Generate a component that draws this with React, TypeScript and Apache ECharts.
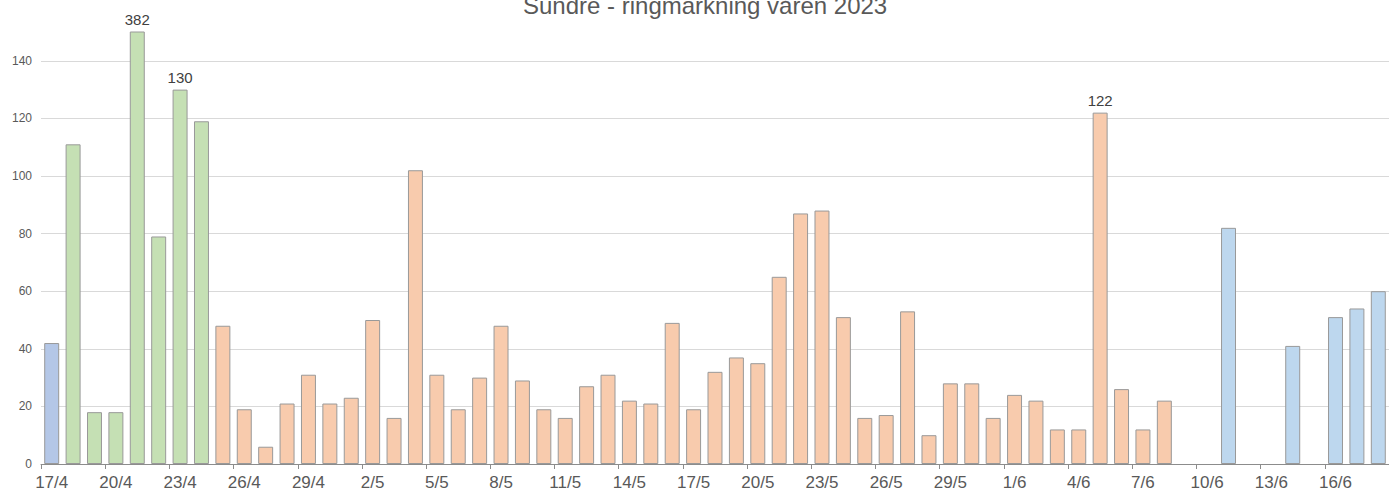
import React, { useEffect, useRef } from "react";
import * as echarts from "echarts";

const title = "Sundre - ringmärkning våren 2023";

const days: string[] = [
  "17/4", "18/4", "19/4", "20/4", "21/4", "22/4", "23/4", "24/4", "25/4", "26/4", "27/4", "28/4", "29/4", "30/4",
  "1/5", "2/5", "3/5", "4/5", "5/5", "6/5", "7/5", "8/5", "9/5", "10/5", "11/5", "12/5", "13/5", "14/5", "15/5",
  "16/5", "17/5", "18/5", "19/5", "20/5", "21/5", "22/5", "23/5", "24/5", "25/5", "26/5", "27/5", "28/5", "29/5",
  "30/5", "31/5", "1/6", "2/6", "3/6", "4/6", "5/6", "6/6", "7/6", "8/6", "9/6", "10/6", "11/6", "12/6", "13/6",
  "14/6", "15/6", "16/6", "17/6", "18/6",
];

const counts: number[] = [
  42, 111, 18, 18, 382, 79, 130, 119, 48, 19, 6, 21, 31, 21,
  23, 50, 16, 102, 31, 19, 30, 48, 29, 19, 16, 27, 31, 22, 21,
  49, 19, 32, 37, 35, 65, 87, 88, 51, 16, 17, 53, 10, 28,
  28, 16, 24, 22, 12, 12, 122, 26, 12, 22, 0, 0, 82, 0, 0,
  41, 0, 51, 54, 60,
];

// period of each day: 0 = early blue, 1 = green, 2 = orange, 3 = late blue
const periods: number[] = [
  0, 1, 1, 1, 1, 1, 1, 1, 2, 2, 2, 2, 2, 2,
  2, 2, 2, 2, 2, 2, 2, 2, 2, 2, 2, 2, 2, 2, 2,
  2, 2, 2, 2, 2, 2, 2, 2, 2, 2, 2, 2, 2, 2,
  2, 2, 2, 2, 2, 2, 2, 2, 2, 2, 3, 3, 3, 3, 3,
  3, 3, 3, 3, 3,
];

const periodColors: string[] = ["#b4c7e7", "#c5e0b4", "#f8cbad", "#bdd7ee"];
const labelledDays: string[] = ["21/4", "23/4", "5/6"];

const yTicks: number[] = [0, 20, 40, 60, 80, 100, 120, 140];

const FONT = "Liberation Sans, Arial, sans-serif";

export default function App() {
  const ref = useRef<HTMLDivElement>(null);
  useEffect(() => {
    if (!ref.current) return;
    const chart = echarts.init(ref.current, undefined, { renderer: "svg" });
    const data = counts.map((v, i) => ({
      value: v === 0 ? "-" : v,
      itemStyle: { color: periodColors[periods[i]] },
      label: { show: labelledDays.includes(days[i]) && v > 0 },
    }));
    const gridColors = yTicks.map(() => "#d9d9d9").concat(["rgba(0,0,0,0)"]);
    chart.setOption({
      animation: false,
      backgroundColor: "#ffffff",
      title: {
        text: title,
        left: 518,
        top: -12,
        textStyle: {
          fontFamily: FONT,
          fontSize: 24,
          fontWeight: "normal",
          color: "#595959",
        },
      },
      grid: { left: 41, right: -2, top: 32, bottom: 34 },
      xAxis: {
        type: "category",
        data: days,
        axisLine: { lineStyle: { color: "#8c8c8c", width: 1 } },
        axisTick: { show: true, alignWithLabel: false, length: 5, lineStyle: { color: "#8c8c8c" } },
        axisLabel: {
          interval: 2,
          margin: 10,
          fontSize: 17,
          color: "#595959",
          fontFamily: FONT,
        },
      },
      yAxis: {
        type: "value",
        min: 0,
        max: 150,
        interval: 20,
        axisLine: { show: false },
        axisTick: { show: false },
        axisLabel: {
          fontSize: 12,
          color: "#595959",
          margin: 9,
          fontFamily: FONT,
          formatter: (v: number) => (v > 140 ? "" : String(v)),
        },
        splitLine: { lineStyle: { color: gridColors, width: 1 } },
      },
      series: [
        {
          type: "bar",
          data,
          barCategoryGap: "30%",
          clip: true,
          itemStyle: { borderColor: "#999999", borderWidth: 1 },
          label: {
            position: "top",
            distance: 5,
            fontSize: 15,
            color: "#404040",
            fontFamily: FONT,
          },
        },
      ],
    });
    return () => chart.dispose();
  }, []);
  return (
    <div
      ref={ref}
      style={{ position: "fixed", left: 0, top: 0, width: 1389, height: 498, background: "#fff" }}
    />
  );
}
